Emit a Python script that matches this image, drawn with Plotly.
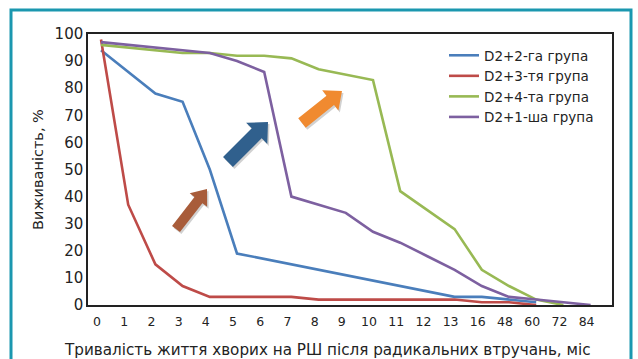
import math
import plotly.graph_objects as go

# Survival (%) by follow-up time after radical surgery, months
months = ["0", "1", "2", "3", "4", "5", "6", "7", "8", "9", "10",
          "11", "12", "13", "16", "48", "60", "72", "84"]

group2 = [94, 86, 78, 75, 50, 19, 17, 15, 13, 11, 9, 7, 5, 3, 3, 2, 1]
group3 = [98, 37, 15, 7, 3, 3, 3, 3, 2, 2, 2, 2, 2, 2, 1, 1, 0]
group4 = [96, 95, 94, 93, 93, 92, 92, 91, 87, 85, 83, 42, 35, 28, 13, 7, 2, 0]
group1 = [97, 96, 95, 94, 93, 90, 86, 40, 37, 34, 27, 23, 18, 13, 7, 3, 2, 1, 0]

series = [
    ("D2+2-га група", group2, "#4A7EBB"),
    ("D2+3-тя група", group3, "#BE4B48"),
    ("D2+4-та група", group4, "#98B954"),
    ("D2+1-ша група", group1, "#7D60A0"),
]

x_title = "Тривалість життя хворих на РШ після радикальних втручань, міс"
y_title = "Виживаність, %"

FONT = "DejaVu Sans"
TXT = "#232323"
W, H = 638, 359
L, R, T, B = 88, 26, 34, 54
PW, PH = W - L - R, H - T - B

fig = go.Figure()
for name, vals, color in series:
    fig.add_trace(go.Scatter(
        x=list(range(len(vals))), y=vals, name=name, mode="lines",
        line=dict(color=color, width=2.6),
    ))


def to_paper(px, py):
    return (px - L) / PW, (H - B - py) / PH


def block_arrow(tail, tip, shaft_w, head_w, head_len):
    """Polygon path (paper coords) for a flat block arrow given in pixels."""
    dx, dy = tip[0] - tail[0], tip[1] - tail[1]
    n = math.hypot(dx, dy)
    ux, uy = dx / n, dy / n
    nx, ny = -uy, ux
    bx, by = tip[0] - ux * head_len, tip[1] - uy * head_len
    pts = [
        (tail[0] + nx * shaft_w / 2, tail[1] + ny * shaft_w / 2),
        (bx + nx * shaft_w / 2, by + ny * shaft_w / 2),
        (bx + nx * head_w / 2, by + ny * head_w / 2),
        tip,
        (bx - nx * head_w / 2, by - ny * head_w / 2),
        (bx - nx * shaft_w / 2, by - ny * shaft_w / 2),
        (tail[0] - nx * shaft_w / 2, tail[1] - ny * shaft_w / 2),
    ]
    p = [to_paper(*q) for q in pts]
    return "M " + " L ".join(f"{a:.4f},{b:.4f}" for a, b in p) + " Z"


arrows = [
    ((176, 229), (207, 189), 10, 22, 14, "#A85C3A"),
    ((228, 162), (268, 122), 14, 30, 16, "#30608D"),
    ((302, 123), (342, 91), 12, 26, 15, "#F08A30"),
]
shapes = []
for tail, tip, sw, hw, hl, col in arrows:
    # soft shadow underneath
    shapes.append(dict(type="path", xref="paper", yref="paper",
                       path=block_arrow((tail[0] + 1.5, tail[1] + 2),
                                        (tip[0] + 1.5, tip[1] + 2), sw, hw, hl),
                       fillcolor="rgba(0,0,0,0.18)", line=dict(width=0), layer="above"))
    shapes.append(dict(type="path", xref="paper", yref="paper",
                       path=block_arrow(tail, tip, sw, hw, hl),
                       fillcolor=col, line=dict(width=0), layer="above"))

# outer teal frame
fx0, fy1 = to_paper(11, 10)
fx1, fy0 = to_paper(631, 380)
shapes.append(dict(type="rect", xref="paper", yref="paper",
                   x0=fx0, x1=fx1, y0=fy0, y1=fy1,
                   line=dict(color="#1B97AF", width=3), layer="below"))

# x-axis caption, centred under the whole panel
tx, ty = to_paper(327, 350)
annotations = [dict(text=x_title, xref="paper", yref="paper", x=tx, y=ty,
                    xanchor="center", yanchor="middle", showarrow=False,
                    font=dict(size=15.2, color=TXT))]

step = 27.2
fig.update_layout(
    width=W, height=H,
    margin=dict(l=L, r=R, t=T, b=B, autoexpand=False),
    paper_bgcolor="white", plot_bgcolor="white",
    font=dict(family=FONT, color=TXT),
    shapes=shapes,
    annotations=annotations,
    showlegend=True,
    legend=dict(x=to_paper(444, 0)[0], y=to_paper(0, 40)[1],
                xanchor="left", yanchor="top",
                font=dict(size=13.5, color=TXT),
                bgcolor="rgba(0,0,0,0)", tracegroupgap=0,
                itemwidth=30),
    xaxis=dict(
        range=[(L - 101) / step, (L + PW - 101) / step],
        tickmode="array", tickvals=list(range(len(months))), ticktext=months,
        ticks="", showgrid=False, zeroline=False, automargin=False,
        showline=True, linecolor="#222222", linewidth=1.5, mirror=True,
        tickfont=dict(size=12.5, color=TXT), ticklabelshift=-4,
        ticklabelstandoff=4,
    ),
    yaxis=dict(
        range=[0, 100], tickmode="linear", tick0=0, dtick=10,
        ticks="", showgrid=False, zeroline=False, automargin=False,
        showline=True, linecolor="#222222", linewidth=1.5, mirror=True,
        tickfont=dict(size=15, color=TXT),
        title=dict(text=y_title, font=dict(size=14.5, color=TXT),
                   standoff=8),
    ),
)

fig.write_html("out.html")
